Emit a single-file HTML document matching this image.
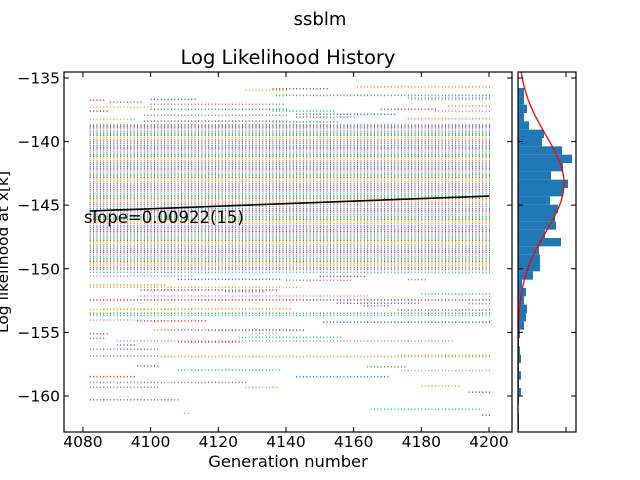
<!DOCTYPE html>
<html><head><meta charset="utf-8"><style>
html,body{margin:0;padding:0;background:#fff;}
svg{display:block;font-family:"DejaVu Sans","Liberation Sans",sans-serif;}
</style></head><body>
<svg id="chart" width="640" height="480" viewBox="0 0 640 480" xmlns="http://www.w3.org/2000/svg">
<rect width="640" height="480" fill="#fff"/>
<text x="320" y="25" font-size="18" text-anchor="middle">ssblm</text>
<text x="288" y="64" font-size="19.5" text-anchor="middle">Log Likelihood History</text>
<defs><clipPath id="mainclip"><rect x="64" y="72" width="448" height="360"/></clipPath>
<clipPath id="histclip"><rect x="518" y="72" width="58" height="360"/></clipPath></defs>
<g id="points" clip-path="url(#mainclip)"></g>
<g id="fit"></g>
<g id="hist" clip-path="url(#histclip)"></g>
<g id="axes"></g>
<text x="84" y="223" font-size="16.5">slope=0.00922(15)</text>
<text x="288" y="467" font-size="16.3" text-anchor="middle">Generation number</text>
<text transform="translate(8,252) rotate(-90)" font-size="15.5" text-anchor="middle">Log likelihood at x[k]</text>
</svg>
<script>
// ---- data ----
const xTicks = [4080, 4100, 4120, 4140, 4160, 4180, 4200];
const yTicks = [-135, -140, -145, -150, -155, -160];
const genFirst = 4082;
const genLast = 4200;
// sparse likelihood levels: value, first generation, last generation
const sparseY = [-135.7,-135.97,-135.85,-136.37,-136.57,-136.7,-136.75,-136.68,-136.9,-137.07,-137.2,-137.3,-137.46,-137.45,-137.6,-137.6,-137.6,-137.86,-137.94,-138.07,-138.2,-138.25,-138.4,-138.46,
 -150.28,-150.57,-150.6,-150.83,-150.85,-150.9,-151.27,-151.45,-151.67,-151.8,-151.98,-152.14,-152.45,-152.7,-152.73,-152.9,-153.16,-153.2,-153.25,-153.5,-153.68,-154.03,-154.1,-154.2,-154.8,-154.85,-154.82,-155.07,-155.1,-155.47,-155.4,-155.68,-155.75,-156.0,-156.33,-156.86,-156.9,-156.8,-157.64,-157.7,-157.96,-158.0,-158.48,-158.48,-158.93,-159.32,-159.33,-159.21,-159.7,-160.3,-161.05,-161.36,-161.5];
const sparseStart = [4161,4128,4136,4137,4176,4177,4080,4100,4088,4100,4188,4080,4168,4100,4136,4184,4080,4143,4098,4143,4176,4080,4098,4136,
 4080,4080,4150,4108,4176,4140,4080,4080,4097,4122,4180,4097,4080,4155,4194,4163,4086,4080,4173,4080,4080,4080,4096,4151,4106,4117,4101,4130,4080,4080,4126,4090,4108,4090,4080,4080,4102,4173,4096,4164,4108,4174,4080,4143,4080,4080,4128,4180,4194,4080,4165,4110,4198];
const sparseEnd = [4200,4140,4152,4200,4200,4200,4086,4113,4097,4139,4200,4100,4184,4140,4154,4200,4087,4172,4140,4160,4200,4095,4140,4155,
 4200,4112,4163,4138,4181,4159,4104,4144,4137,4133,4200,4164,4200,4179,4200,4170,4141,4112,4200,4200,4200,4097,4116,4200,4145,4145,4106,4137,4087,4086,4156,4189,4126,4095,4102,4102,4200,4200,4102,4175,4138,4200,4095,4170,4128,4102,4137,4191,4200,4108,4197,4111,4200];
// dense band of levels covering all generations
const denseY = [-138.7,-138.85,-139.0,-139.18,-139.35,-139.5,-139.68,-139.85,-140.0,-140.15,-140.32,-140.5,-140.66,-140.82,-141.0,-141.15,-141.3,-141.48,-141.65,-141.8,-141.97,-142.13,-142.3,-142.47,-142.62,-142.8,-142.95,-143.12,-143.3,-143.45,-143.6,-143.78,-143.95,-144.1,-144.27,-144.45,-144.6,-144.76,-144.92,-145.1,-145.27,-145.43,-145.6,-145.76,-145.92,-146.1,-146.25,-146.42,-146.6,-146.75,-146.92,-147.08,-147.25,-147.4,-147.58,-147.75,-147.9,-148.07,-148.23,-148.4,-148.57,-148.72,-148.9,-149.05,-149.22,-149.4,-149.55,-149.72,-149.9,-150.05];
const denseStart = 4082;
const denseEnd = 4200;
// histogram: bin top values and counts
const binTop0 = -135.79;
const binWidth = 0.655;
const binCounts = [6,6,9,6,11,26,24,44,54,45,33,50,45,32,40,37,38,27,43,21,22,22,15,4,8,6,9,8,6,2,1,2,3,1,3,1,3,1,0,1,1];
const fitMean = -143.3, fitSigma = 3.8, fitPeak = 46;
const slopeLine = {x: [4082, 4200], y: [-145.46, -144.28]};
const colors = ['#1f77b4','#ff7f0e','#2ca02c','#d62728','#9467bd','#8c564b','#e377c2','#7f7f7f','#bcbd22','#17becf'];

// ---- scales ----
const X0=64,X1=512,Y0=72,Y1=432;
const xMin=4074.4,xMax=4206.8,yMax=-134.53,yMin=-162.83;
function sx(v){return X0+(v-xMin)/(xMax-xMin)*(X1-X0);}
function sy(v){return Y0+(yMax-v)/(yMax-yMin)*(Y1-Y0);}
const H0=518;
function hx(c){return H0+c;}
const NS='http://www.w3.org/2000/svg';
function mk(tag,attrs,parent){const e=document.createElementNS(NS,tag);for(const k in attrs)e.setAttribute(k,attrs[k]);parent.appendChild(e);return e;}

// ---- points ----
const pts=document.getElementById('points');
function level(y,g0,g1,ci,name){
  let d='';
  const a=Math.max(g0,genFirst),b=Math.min(g1,genLast);
  const py=sy(y);
  for(let g=a;g<=b;g++){d+='M'+sx(g).toFixed(2)+' '+(py-0.8).toFixed(2)+'h1v1.6h-1z';}
  const p=mk('path',{d:d,fill:colors[ci%10]},pts);
  
  
}
for(let i=0;i<denseY.length;i++) level(denseY[i],denseStart,denseEnd,i*3,'dense-level-points');
for(let i=0;i<sparseY.length;i++) level(sparseY[i],sparseStart[i],sparseEnd[i],i*7+1,'sparse-level-points');

// ---- fit line ----
const fl=mk('line',{x1:sx(slopeLine.x[0]),y1:sy(slopeLine.y[0]),x2:sx(slopeLine.x[1]),y2:sy(slopeLine.y[1]),stroke:'#000','stroke-width':1.6},document.getElementById('fit'));



// ---- histogram ----
const hg=document.getElementById('hist');
for(let i=0;i<binCounts.length;i++){
  if(!binCounts[i]) continue;
  const top=binTop0-i*binWidth;
  const r=mk('rect',{x:hx(0),y:sy(top),width:binCounts[i],height:sy(top-binWidth)-sy(top),fill:'#1f77b4'},hg);
  
  
}
let gd='';
for(let v=yMax;v>=yMin;v-=0.1){const c=fitPeak*Math.exp(-Math.pow(v-fitMean,2)/(2*fitSigma*fitSigma));gd+=(gd?'L':'M')+hx(c).toFixed(2)+' '+sy(v).toFixed(2);}
const gc=mk('path',{d:gd,fill:'none',stroke:'#ff0000','stroke-width':1.3},hg);



// ---- axes ----
const ax=document.getElementById('axes');
const f1=mk('rect',{x:X0,y:Y0,width:X1-X0,height:Y1-Y0,fill:'none',stroke:'#000','stroke-width':1.2},ax);


const f2=mk('rect',{x:518,y:Y0,width:58,height:Y1-Y0,fill:'none',stroke:'#000','stroke-width':1.2},ax);


for(const t of xTicks){
  const x=sx(t);
  const tk=mk('path',{d:'M'+x+' '+Y1+'v-5M'+x+' '+Y0+'v5',stroke:'#000','stroke-width':1},ax);
  
  
  const lb=mk('text',{x:x,y:Y1+15,'font-size':15.5,'text-anchor':'middle'},ax);
  lb.textContent=t;
  
  
}
for(const t of yTicks){
  const y=sy(t);
  const tk=mk('path',{d:'M'+X0+' '+y+'h5M'+X1+' '+y+'h-5M518 '+y+'h5M576 '+y+'h-5',stroke:'#000','stroke-width':1},ax);
  
  
  const lb=mk('text',{x:60,y:y+5.5,'font-size':15.5,'text-anchor':'end'},ax);
  lb.textContent='\u2212'+Math.abs(t);
  
  
}
const ht=mk('path',{d:'M'+hx(48)+' '+Y1+'v-5M'+hx(48)+' '+Y0+'v5',stroke:'#000','stroke-width':1},ax);


</script>
</body></html>
